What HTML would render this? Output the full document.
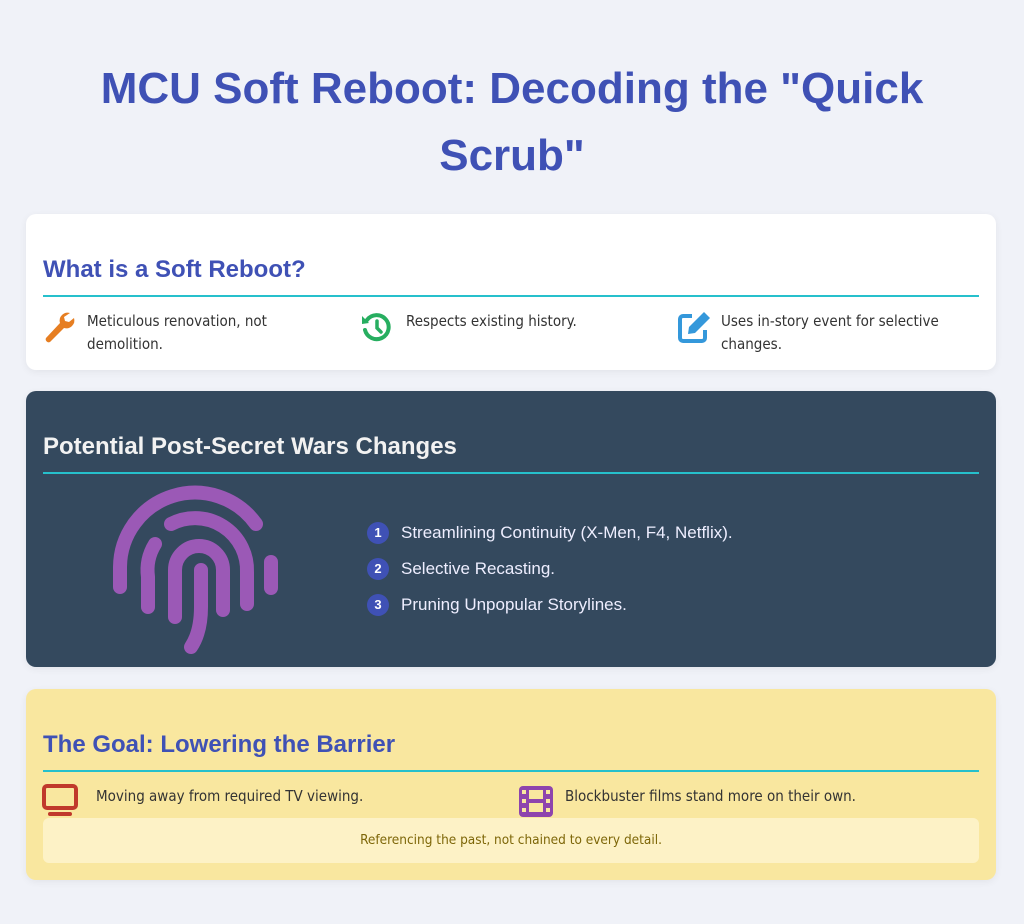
<!DOCTYPE html>
<html><head><meta charset="utf-8"><style>
*{margin:0;padding:0;box-sizing:border-box}
body{width:1024px;height:924px;background:#f0f2f8;font-family:"Liberation Sans",sans-serif;position:relative;overflow:hidden}
.a{position:absolute}
.title{left:0;width:1024px;text-align:center;color:#3f51b5;font-weight:bold;font-size:44px;line-height:67px;top:55px}
.card{position:absolute;left:26px;width:970px;border-radius:10px;box-shadow:0 2px 8px rgba(0,0,0,0.06)}
.h{position:absolute;left:17px;font-weight:bold;font-size:24px;white-space:nowrap}
.line{position:absolute;left:17px;width:936px;height:2px;background:#26c0cc}
.t{position:absolute;font-size:15px;line-height:23px;color:#333;font-family:"DejaVu Sans Condensed","Liberation Sans",sans-serif}
.num{position:absolute;width:22px;height:22px;border-radius:50%;background:#3f51b5;color:#fff;font-weight:bold;font-size:13px;text-align:center;line-height:22px}
.li{position:absolute;left:375px;color:#eef;font-size:17px}
</style></head><body>
<div class="a title">MCU Soft Reboot: Decoding the "Quick<br>Scrub"</div>

<div class="card" style="top:214px;height:156px;background:#fff">
  <div class="h" style="top:42px;color:#3f51b5">What is a Soft Reboot?</div>
  <div class="line" style="top:81px"></div>
  <svg class="a" style="left:16px;top:96px" width="34" height="36" viewBox="0 0 34 36"><path d="M28 3 a8 8 0 0 0 -10 10 L4 28 a3 3 0 0 0 4 4 L22 18 a8 8 0 0 0 10 -10 l-5 4 -4 -1 -1 -4z" fill="#e67e22"/></svg>
  <div class="t" style="left:61px;top:96px;width:230px">Meticulous renovation, not demolition.</div>
  <svg class="a" style="left:333px;top:96px" width="34" height="34" viewBox="0 0 34 34"><path d="M8 10 A12 12 0 1 1 6 20" fill="none" stroke="#27ae60" stroke-width="4" stroke-linecap="round"/><path d="M3 6 L10 13 L3 14z" fill="#27ae60"/><path d="M18 11 V18 L22 22" fill="none" stroke="#27ae60" stroke-width="3.5" stroke-linecap="round"/></svg>
  <div class="t" style="left:380px;top:96px">Respects existing history.</div>
  <svg class="a" style="left:650px;top:96px" width="36" height="36" viewBox="0 0 36 36"><path d="M16 6 H7 a3 3 0 0 0 -3 3 V28 a3 3 0 0 0 3 3 H26 a3 3 0 0 0 3 -3 V20" fill="none" stroke="#3498db" stroke-width="4"/><path d="M28 2 L34 8 L19 23 L12 24 L13 17z" fill="#3498db"/></svg>
  <div class="t" style="left:695px;top:96px;width:250px">Uses in-story event for selective changes.</div>
</div>

<div class="card" style="top:391px;height:276px;background:#34495e">
  <div class="h" style="top:42px;color:#f2f2f2">Potential Post-Secret Wars Changes</div>
  <div class="line" style="top:81px"></div>
  <svg class="a" style="left:87px;top:91px;overflow:visible" width="170" height="170" viewBox="0 0 170 170" fill="none" stroke="#9b59b6" stroke-width="14" stroke-linecap="round">
    <path d="M7 105 V85 A75 75 0 0 1 143 42"/>
    <path d="M35 125 V95 A50 50 0 0 1 42 62"/>
    <path d="M58 42 A52 52 0 0 1 134 90 V122"/>
    <path d="M62 135 V88 A24 24 0 0 1 110 88 V128"/>
    <path d="M88 88 V125 Q88 150 78 165"/>
    <path d="M158 80 V106"/>
  </svg>
  <div class="num" style="left:341px;top:131px">1</div><div class="li" style="top:132px">Streamlining Continuity (X-Men, F4, Netflix).</div>
  <div class="num" style="left:341px;top:167px">2</div><div class="li" style="top:168px">Selective Recasting.</div>
  <div class="num" style="left:341px;top:203px">3</div><div class="li" style="top:204px">Pruning Unpopular Storylines.</div>
</div>

<div class="card" style="top:689px;height:191px;background:#f9e79f">
  <div class="h" style="top:42px;color:#3f51b5">The Goal: Lowering the Barrier</div>
  <div class="line" style="top:81px"></div>
  <svg class="a" style="left:16px;top:95px" width="36" height="34" viewBox="0 0 36 34"><rect x="2" y="2" width="32" height="22" rx="3" fill="none" stroke="#c0392b" stroke-width="4"/><rect x="6" y="28" width="24" height="4" rx="2" fill="#c0392b"/></svg>
  <div class="t" style="left:70px;top:96px">Moving away from required TV viewing.</div>
  <svg class="a" style="left:493px;top:97px" width="34" height="31" viewBox="0 0 34 31"><rect x="0" y="0" width="34" height="31" rx="4" fill="#8e44ad"/><rect x="10" y="4" width="14" height="9" fill="#f9e79f"/><rect x="10" y="17" width="14" height="9" fill="#f9e79f"/><g fill="#f9e79f"><rect x="3" y="4" width="4" height="4"/><rect x="3" y="13" width="4" height="4"/><rect x="3" y="22" width="4" height="4"/><rect x="27" y="4" width="4" height="4"/><rect x="27" y="13" width="4" height="4"/><rect x="27" y="22" width="4" height="4"/></g></svg>
  <div class="t" style="left:539px;top:96px">Blockbuster films stand more on their own.</div>
  <div class="a" style="left:17px;top:129px;width:936px;height:45px;background:#fdf2c6;border-radius:6px;text-align:center;line-height:45px;color:#7d6608;font-size:13.5px;font-family:'DejaVu Sans Condensed','Liberation Sans',sans-serif">Referencing the past, not chained to every detail.</div>
</div>
</body></html>
